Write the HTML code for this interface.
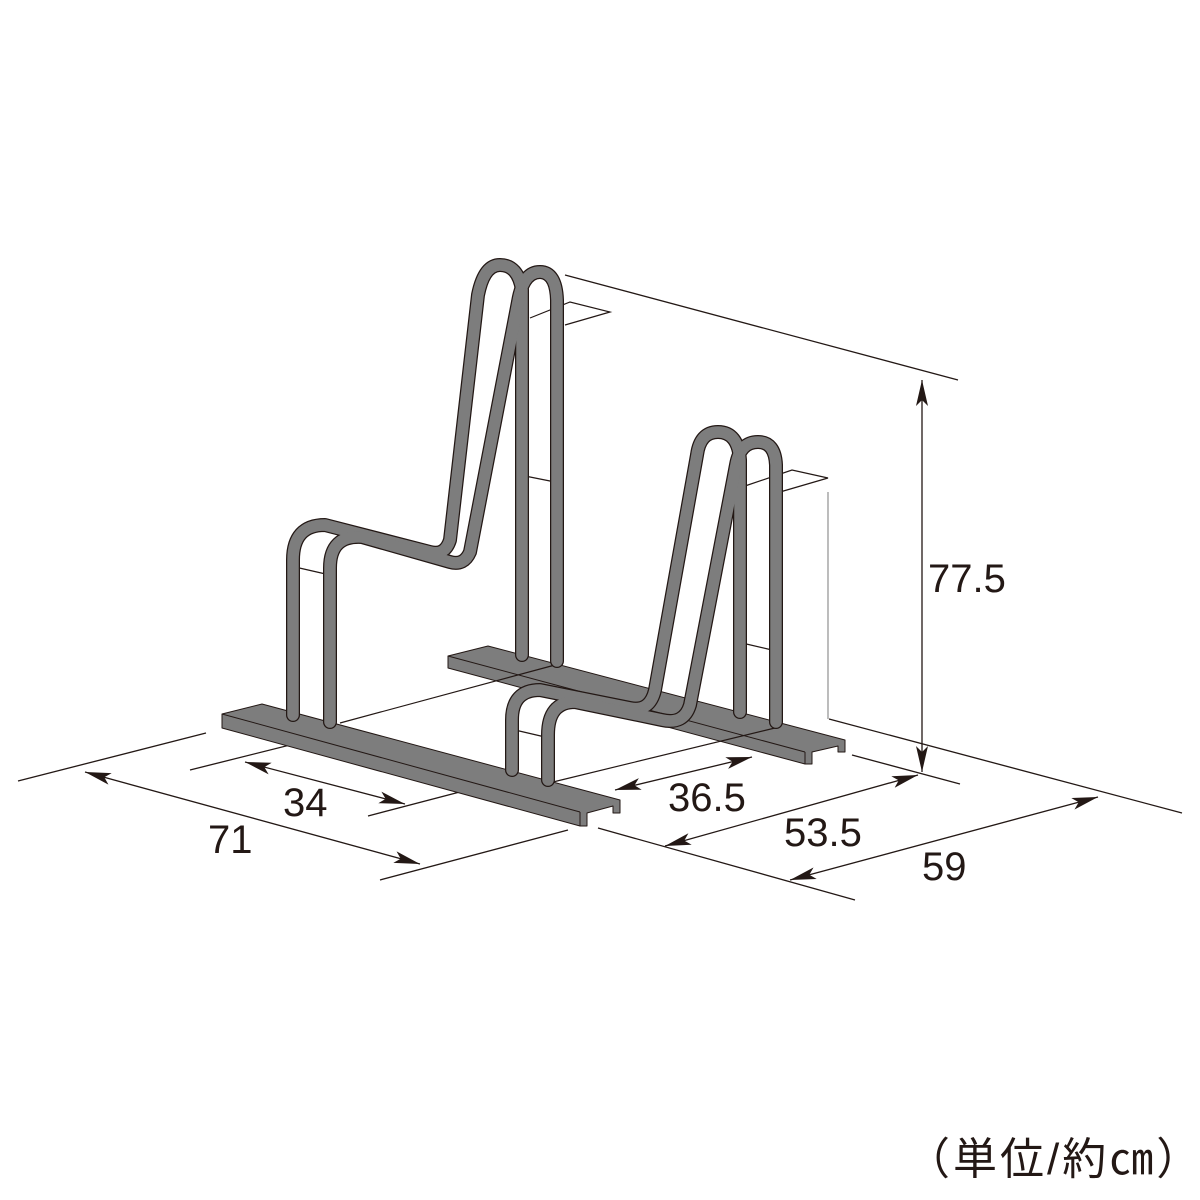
<!DOCTYPE html>
<html><head><meta charset="utf-8"><style>
html,body{margin:0;padding:0;background:#fff;}
svg{display:block}
text{font-family:"Liberation Sans","Noto Sans CJK JP",sans-serif;fill:#231815;}
</style></head><body>
<svg width="1200" height="1200" viewBox="0 0 1200 1200" xmlns="http://www.w3.org/2000/svg">
<defs>
<marker id="ar" viewBox="0 0 26 12" refX="26" refY="6" markerWidth="26" markerHeight="12" markerUnits="userSpaceOnUse" orient="auto-start-reverse">
<path d="M0,0 L26,6 L0,12 L6,6 Z" fill="#231815"/></marker>
</defs>
<g stroke="#231815" stroke-width="1.3" fill="none">
<line x1="565" y1="275" x2="958" y2="380"/>
<line x1="829" y1="719" x2="1182" y2="813"/>
<line x1="852" y1="755" x2="960" y2="784"/>
<line x1="18" y1="781" x2="206" y2="733"/>
<line x1="190" y1="770" x2="330" y2="735"/>
<line x1="368" y1="816" x2="498" y2="782"/>
<line x1="380" y1="880" x2="568" y2="830"/>
<line x1="598" y1="828" x2="855" y2="900"/>
<line x1="922" y1="380" x2="922" y2="772" marker-start="url(#ar)" marker-end="url(#ar)"/>
<line x1="85" y1="772" x2="420" y2="864" marker-start="url(#ar)" marker-end="url(#ar)"/>
<line x1="245" y1="762" x2="405" y2="804" marker-start="url(#ar)" marker-end="url(#ar)"/>
<line x1="615" y1="790" x2="752" y2="757" marker-start="url(#ar)" marker-end="url(#ar)"/>
<line x1="665" y1="846" x2="918" y2="775" marker-start="url(#ar)" marker-end="url(#ar)"/>
<line x1="790" y1="880" x2="1098" y2="797" marker-start="url(#ar)" marker-end="url(#ar)"/>
</g>
<line x1="828" y1="492" x2="828" y2="719" stroke="#999" stroke-width="1.3"/>

<g stroke="#231815" stroke-width="1" fill="#7d7d7d" stroke-linejoin="round">
<polygon points="448,656 488,646 845,740 845,752 838,752 838,746 812,752 812,764 805,764 448,668"/>
<line x1="448" y1="656" x2="805" y2="752"/>
<line x1="805" y1="752" x2="805" y2="764"/>
<polygon points="222,714 262,704 620,800 620,813 613,813 613,806 587,813 587,826 580,826 222,728"/>
<line x1="222" y1="714" x2="580" y2="812"/>
<line x1="580" y1="812" x2="580" y2="826"/>
</g>
<g stroke="#231815" stroke-width="1.2" fill="none">
<polyline points="530,318 570,302 610,312 565,325"/>
<line x1="520" y1="475" x2="555" y2="482"/>
<line x1="295" y1="567" x2="330" y2="575"/>
<line x1="340" y1="723" x2="555" y2="665"/>
<polyline points="742,487 792,470 828,478 780,492"/>
<line x1="742" y1="643" x2="772" y2="650"/>
<line x1="515" y1="730" x2="545" y2="737"/>
<line x1="553" y1="782" x2="775" y2="728"/>
</g>
<g fill="none" stroke-linecap="round" stroke-linejoin="round">
<g stroke="#231815" stroke-width="14">
<path d="M293,715 V560 Q293,525 325,525 L430,552 Q445,556 450,540 L478,295 Q484,265 500,265 Q518,265 522,290 V655"/>
<path d="M330,722 V568 Q330,535 362,537 L450,562 Q464,566 470,552 L518,302 Q523,272 540,272 Q556,272 557,300 V661"/>
<path d="M740,712 V460 Q738,432 718,432 Q700,432 697,455 L655,690 Q650,712 630,708 L540,690 Q512,690 512,720 V770"/>
<path d="M776,722 V465 Q775,442 758,442 Q740,442 736,465 L690,705 Q684,725 662,720 L575,702 Q548,702 548,735 V780"/>
</g>
<g stroke="#7d7d7d" stroke-width="11.5">
<path d="M293,715 V560 Q293,525 325,525 L430,552 Q445,556 450,540 L478,295 Q484,265 500,265 Q518,265 522,290 V655"/>
<path d="M330,722 V568 Q330,535 362,537 L450,562 Q464,566 470,552 L518,302 Q523,272 540,272 Q556,272 557,300 V661"/>
<path d="M740,712 V460 Q738,432 718,432 Q700,432 697,455 L655,690 Q650,712 630,708 L540,690 Q512,690 512,720 V770"/>
<path d="M776,722 V465 Q775,442 758,442 Q740,442 736,465 L690,705 Q684,725 662,720 L575,702 Q548,702 548,735 V780"/>
</g>
</g>
<g font-size="40">
<text x="928" y="592">77.5</text>
<text x="208" y="853">71</text>
<text x="283" y="816">34</text>
<text x="668" y="811">36.5</text>
<text x="784" y="846">53.5</text>
<text x="922" y="880">59</text>
<text x="906" y="1174" font-size="44" letter-spacing="3">（単位/約㎝）</text>
</g>
</svg>
</body></html>
